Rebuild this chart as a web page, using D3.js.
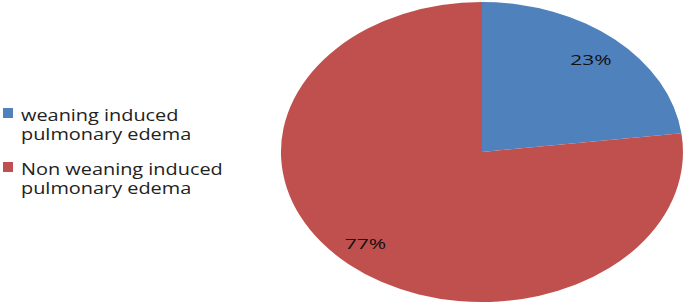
<!DOCTYPE html>
<html>
<head>
<meta charset="utf-8">
<script src="https://cdn.jsdelivr.net/npm/d3@7"></script>
<style>
  html, body { margin: 0; padding: 0; background: #fff; }
  svg { display: block; }
</style>
</head>
<body>
<svg id="chart" width="685" height="304"></svg>
<script>
const categories = ["weaning induced pulmonary edema", "Non weaning induced pulmonary edema"];
const legendLines = [["weaning induced", "pulmonary edema"], ["Non weaning induced", "pulmonary edema"]];
const values = [23, 77];
const labels = ["23%", "77%"];
const colors = ["#4F81BD", "#C0504D"];

const svg = d3.select("#chart");
const cx = 482, cy = 152, rx = 201, ry = 150;
const font = "'Open Sans', sans-serif";

const pie = d3.pie().sort(null).value(d => d)(values);
const arc = d3.arc().innerRadius(0).outerRadius(1);

const g = svg.append("g").attr("transform", `translate(${cx},${cy}) scale(${rx},${ry})`);
g.selectAll("path").data(pie).enter().append("path")
  .attr("d", arc)
  .attr("fill", (d, i) => colors[i]);

const labelArc = d3.arc().innerRadius(0.82).outerRadius(0.82);
svg.selectAll("text.lbl").data(pie).enter().append("text")
  .attr("class", "lbl")
  .attr("transform", d => `translate(${cx + labelArc.centroid(d)[0] * rx * (d.index === 1 ? 1.07 : 1)},${cy + labelArc.centroid(d)[1] * ry}) scale(1.45,1)`)
  .attr("dy", "0.36em")
  .attr("text-anchor", "middle")
  .attr("font-family", font)
  .attr("font-size", 14.5)
  .attr("fill", "#111")
  .text((d, i) => labels[i]);

const legend = svg.append("g");
const items = legend.selectAll("g").data(categories).enter().append("g")
  .attr("transform", (d, i) => `translate(3,${108 + i * 54})`);
items.append("rect").attr("width", 10).attr("height", 10)
  .attr("fill", (d, i) => colors[i]);
items.each(function(d, i) {
  legendLines[i].forEach((ln, j) => {
    d3.select(this).append("text")
      .attr("transform", `translate(18,${13 + j * 19}) scale(1.17,1)`)
      .attr("font-family", font).attr("font-size", 17).attr("fill", "#222")
      .text(ln);
  });
});
</script>
</body>
</html>
